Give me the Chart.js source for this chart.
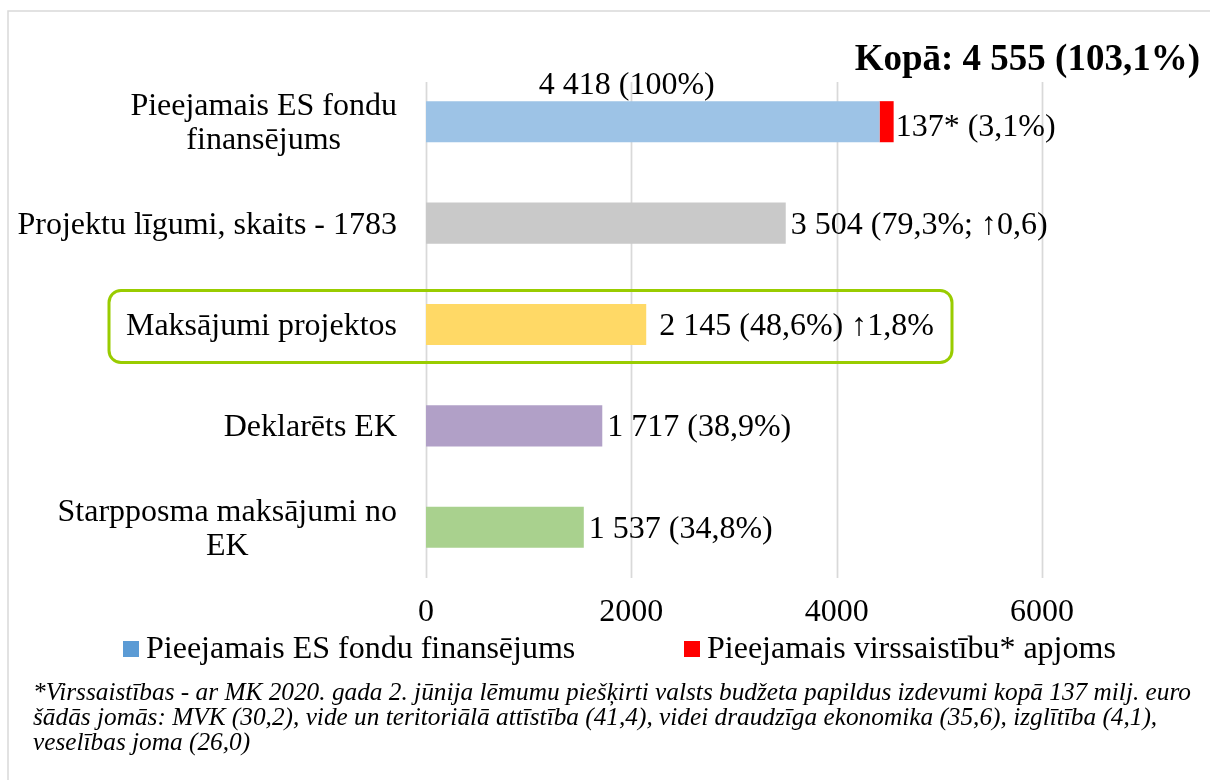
<!DOCTYPE html>
<html>
<head>
<meta charset="utf-8">
<script src="https://cdn.jsdelivr.net/npm/chart.js@4"></script>
<style>
html,body{margin:0;padding:0;background:#fff;}
canvas{display:block;}
</style>
</head>
<body>
<canvas id="c" width="1210" height="780"></canvas>
<script>
// ---- data ----
const categories = [
  ['Pieejamais ES fondu', 'finansējums'],
  ['Projektu līgumi, skaits - 1783'],
  ['Maksājumi projektos'],
  ['Deklarēts EK'],
  ['Starpposma maksājumi no', 'EK']
];
const mainValues = [4418, 3504, 2145, 1717, 1537];
const extraValues = [137, 0, 0, 0, 0];
const valueLabels = ['4 418 (100%)', '3 504 (79,3%; ↑0,6)', ' 2 145 (48,6%) ↑1,8%', '1 717 (38,9%)', '1 537 (34,8%)'];
const extraLabels = ['137* (3,1%)', '', '', '', ''];
const seriesNames = ['Pieejamais ES fondu finansējums', 'Pieejamais virssaistību* apjoms'];
const xTicks = [0, 2000, 4000, 6000];
const totalLabel = 'Kopā: 4 555 (103,1%)';
const footnoteLines = [
  '*Virssaistības - ar MK 2020. gada 2. jūnija lēmumu piešķirti valsts budžeta papildus izdevumi kopā 137 milj. euro',
  'šādās jomās: MVK (30,2), vide un teritoriālā attīstība (41,4), videi draudzīga ekonomika (35,6), izglītība (4,1),',
  'veselības joma (26,0)'
];
const highlightIndex = 2;

// ---- styles ----
const barColors = ['#9DC3E6', '#C9C9C9', '#FFD966', '#B1A0C7', '#A9D18E'];
const legendColors = ['#5B9BD5', '#FF0000'];
const FONT = "'Liberation Serif', 'Times New Roman', serif";

const decor = {
  id: 'decor',
  beforeDatasetsDraw(chart) {
    const ctx = chart.ctx, xs = chart.scales.x, area = chart.chartArea;
    ctx.save();
    // outer frame
    ctx.strokeStyle = '#D9D9D9';
    ctx.lineWidth = 1.5;
    ctx.beginPath();
    ctx.moveTo(8, 790); ctx.lineTo(8, 11); ctx.lineTo(1220, 11);
    ctx.stroke();
    // gridlines
    ctx.strokeStyle = '#D9D9D9';
    ctx.lineWidth = 1.75;
    xs.ticks.forEach(t => {
      const x = Math.round(xs.getPixelForValue(t.value)) + 0.5;
      ctx.beginPath();
      ctx.moveTo(x, 82);
      ctx.lineTo(x, area.bottom);
      ctx.stroke();
    });
    ctx.restore();
  },
  afterDraw(chart) {
    const ctx = chart.ctx, xs = chart.scales.x, ys = chart.scales.y;
    const m0 = chart.getDatasetMeta(0), m1 = chart.getDatasetMeta(1);
    ctx.save();
    ctx.fillStyle = '#000';
    ctx.textBaseline = 'middle';
    // category labels
    ctx.font = '32px ' + FONT;
    const rightEdge = 397, lh = 34;
    categories.forEach((lines, i) => {
      const cy = ys.getPixelForValue(i) + 2;
      const w = Math.max(...lines.map(l => ctx.measureText(l).width));
      const cx = rightEdge - w / 2;
      ctx.textAlign = 'center';
      lines.forEach((l, k) => {
        ctx.fillText(l, cx, cy + (k - (lines.length - 1) / 2) * lh);
      });
    });
    // value labels
    ctx.textAlign = 'left';
    mainValues.forEach((v, i) => {
      const bar = m0.data[i];
      if (i === 0) {
        ctx.textAlign = 'center';
        ctx.fillText(valueLabels[i], (xs.getPixelForValue(0) + bar.x) / 2 - 26, bar.y - 36);
        ctx.textAlign = 'left';
        if (extraLabels[i]) {
          const eb = m1.data[i];
          ctx.fillText(extraLabels[i], eb.x + 2, eb.y + 6);
        }
      } else {
        ctx.fillText(valueLabels[i], bar.x + 5, bar.y + 2);
      }
    });
    // total title
    ctx.font = 'bold 37px ' + FONT;
    ctx.textAlign = 'right';
    ctx.fillText(totalLabel, 1200, 60);
    // highlight box
    const hy = ys.getPixelForValue(highlightIndex);
    ctx.strokeStyle = '#99CC00';
    ctx.lineWidth = 3;
    ctx.beginPath();
    ctx.roundRect(109, hy - 34, 843, 72, 12);
    ctx.stroke();
    // legend
    ctx.font = '32px ' + FONT;
    ctx.textAlign = 'left';
    const legendX = [123, 684];
    seriesNames.forEach((n, i) => {
      ctx.fillStyle = legendColors[i];
      ctx.fillRect(legendX[i], 641, 16, 16);
      ctx.fillStyle = '#000';
      ctx.fillText(n, legendX[i] + 23, 650);
    });
    // footnote
    ctx.font = 'italic 25.3px ' + FONT;
    footnoteLines.forEach((l, k) => {
      ctx.fillText(l, 33, 693 + k * 25);
    });
    ctx.restore();
  }
};

new Chart(document.getElementById('c'), {
  type: 'bar',
  data: {
    labels: categories.map(c => c.join(' ')),
    datasets: [
      { label: seriesNames[0], data: mainValues, backgroundColor: barColors, barPercentage: 0.405, categoryPercentage: 1 },
      { label: seriesNames[1], data: extraValues, backgroundColor: '#FF0000', barPercentage: 0.405, categoryPercentage: 1 }
    ]
  },
  options: {
    indexAxis: 'y',
    responsive: false,
    animation: false,
    devicePixelRatio: 1,
    layout: { padding: { left: 426, right: 168, top: 71, bottom: 142 } },
    plugins: { legend: { display: false }, tooltip: { enabled: false } },
    scales: {
      x: {
        stacked: true,
        min: 0, max: 6000,
        afterBuildTicks: s => { s.ticks = xTicks.map(v => ({ value: v })); },
        afterFit: s => { s.height = 60; },
        ticks: { font: { family: FONT, size: 32 }, color: '#000', padding: 15, maxRotation: 0, autoSkip: false,
                 callback: v => String(v) },
        grid: { display: false, drawTicks: false },
        border: { display: false }
      },
      y: { stacked: true, display: false }
    }
  },
  plugins: [decor]
});
</script>
</body>
</html>
